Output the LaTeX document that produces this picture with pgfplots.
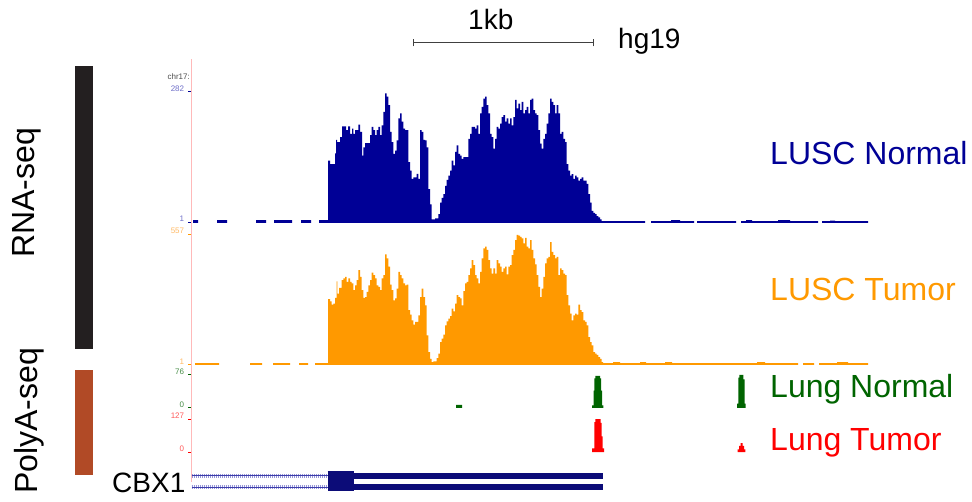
\documentclass[border=0pt]{standalone}
\usepackage{fontspec}
\setmainfont{Liberation Sans}
\usepackage{pgfplots}
\pgfplotsset{compat=1.18}

\definecolor{covblue}{RGB}{0,0,150}
\definecolor{covorange}{RGB}{255,153,0}
\definecolor{pagreen}{RGB}{0,100,0}
\definecolor{pared}{RGB}{255,0,0}
\definecolor{genenavy}{RGB}{12,12,120}
\definecolor{intronlight}{RGB}{150,150,215}
\definecolor{introndark}{RGB}{60,60,170}
\definecolor{rnabar}{RGB}{35,31,32}
\definecolor{polyabar}{RGB}{177,74,38}
\definecolor{guide}{RGB}{255,185,185}
\definecolor{lblblue}{RGB}{110,110,200}
\definecolor{lblorange}{RGB}{255,185,100}
\definecolor{lblgreen}{RGB}{70,140,70}
\definecolor{lblred}{RGB}{255,90,90}

\pgfplotsset{
  track/.style={
    scale only axis, anchor=south west,
    width=780.7pt, xmin=191.3, xmax=972, ymin=0,
    axis x line=none, axis y line*=left,
    y axis line style={draw=none},
    tick align=outside, major tick length=3pt,
    yticklabel style={font=\fontsize{8}{8}\selectfont, anchor=south east,
      inner sep=0pt, xshift=-4pt, yshift=0.5pt},
  },
  cov/.style={const plot mark left, draw=none, fill=#1},
}

\newcommand{\biglabel}{\fontsize{32}{36}\selectfont}
\newcommand{\midlabel}{\fontsize{28}{32}\selectfont}

\begin{document}
\begin{tikzpicture}[x=1pt, y=1pt]
\useasboundingbox (0,0) rectangle (972,501);

% group bars on the left
\fill[rnabar] (75,152) rectangle (93,435);
\fill[polyabar] (75,26) rectangle (93,131);
\node[rotate=90, anchor=base, font=\biglabel] at (34.5,308) {RNA-seq};
\node[rotate=90, anchor=base, font=\biglabel] at (37,80) {PolyA-seq};

% scale bar
\draw[black!75, line width=1pt] (413.3,458.3) -- (593.3,458.3);
\draw[black!75, line width=1pt] (413.3,454.5) -- (413.3,462);
\draw[black!75, line width=1pt] (593.3,454.5) -- (593.3,462);
\node[anchor=base west, font=\midlabel, inner sep=0pt] at (468,471.7) {1kb};
\node[anchor=base west, font=\midlabel, inner sep=0pt] at (618,452.7) {hg19};

% guide line at the left edge of the window
\draw[guide, line width=1pt] (191.3,19) -- (191.3,442);
\node[anchor=base east, font=\fontsize{8}{8}\selectfont, text=black!70, inner sep=0pt] at (190,421) {chr17:};

% LUSC Normal RNA-seq coverage (one plot per covered stretch)
\begin{axis}[track, at={(191.3pt,278pt)}, height=131pt, ymax=282,
  ytick={1,282}, yticklabels={1,282},
  tick style={covblue, line width=1pt}, yticklabel style={text=lblblue}]
\addplot[cov=covblue] coordinates {(193,6) (198,0)} \closedcycle;
\addplot[cov=covblue] coordinates {(217,6) (227,0)} \closedcycle;
\addplot[cov=covblue] coordinates {(256,6) (266,0)} \closedcycle;
\addplot[cov=covblue] coordinates {(274,6) (292,0)} \closedcycle;
\addplot[cov=covblue] coordinates {(301,6) (311,0)} \closedcycle;
\addplot[cov=covblue] coordinates {
(319,6)
(328,134) (330,127) (335,150) (336,179) (337,174) (340,185) (342,208) (346,200) (348,208)
(350,192) (352,203) (353.3,192) (355,200) (358.3,212) (360,196) (362,145) (363.3,163)
(365,172) (370,189) (371.7,207) (373.3,200) (375,189) (376.7,200) (378.3,207) (380,189)
(381.7,210) (383.3,239) (385,279) (386.7,272) (388.3,254) (390,196) (391.7,174) (393.3,149)
(395,156) (396.7,178) (398.3,225) (400,236) (401.7,218) (403.3,203) (405,200) (408.3,131)
(410,113) (411.7,95) (413.3,98) (416.7,106) (418.3,95) (420,200) (421.7,196) (423.3,179)
(425,178) (426.7,163) (428.3,73) (430,40) (431.7,8) (435,10) (438.3,19) (440,44) (441.7,54)
(443.3,62) (445,80) (446.7,93) (448.3,102) (450,113) (451.7,134) (453.3,124) (455,153)
(456.7,167) (458.3,149) (460,145) (461.7,138) (463.3,142) (468.3,181) (470,192) (471.7,207)
(475,203) (476.7,210) (478.3,192) (480,236) (481.7,250) (483.3,268) (485,272) (486.7,254)
(488.3,236) (490,192) (491.7,185) (493.3,160) (495,181) (496.7,207) (498.3,203) (500,214)
(501.7,228) (503.3,232) (505,218) (506.7,225) (508.3,214) (510,225) (511.7,210) (513.3,228)
(515,265) (516.7,247) (518.3,257) (520,243) (521.7,261) (523.3,236) (525,243) (526.7,250)
(528.3,236) (530,265) (531.7,268) (533.3,243) (535,236) (536.7,232) (538.3,200) (540,171)
(541.7,160) (543.3,181) (545,192) (546.7,214) (548.3,236) (550,268) (551.7,261) (553.3,254)
(555,236) (556.7,254) (558.3,236) (560,192) (561.7,196) (563.3,181) (565,174) (566.7,127)
(568.3,113) (570,102) (571.7,105) (573.3,95) (575,102) (576.7,98) (578.3,91) (580,95)
(581.7,98) (583.3,91) (586.7,84) (588.3,62) (590,44) (591.7,26) (593.3,22) (595,19)
(596.7,15) (598.3,12) (600,8) (601.7,4)
(603,4) (645,0)
} \closedcycle;
\addplot[cov=covblue] coordinates {(651,4) (671,6) (680,4) (694,0)} \closedcycle;
\addplot[cov=covblue] coordinates {(697,4) (736,0)} \closedcycle;
\addplot[cov=covblue] coordinates {(741,4) (746,6) (752,4) (778,6) (790,4) (818,0)} \closedcycle;
\addplot[cov=covblue] coordinates {(822,4) (830,5) (835,4) (868,0)} \closedcycle;
\end{axis}

% LUSC Tumor RNA-seq coverage
\begin{axis}[track, at={(191.3pt,136pt)}, height=131pt, ymax=557,
  ytick={1,557}, yticklabels={1,557},
  tick style={covorange, line width=1pt}, yticklabel style={text=lblorange}]
\addplot[cov=covorange] coordinates {(195,8) (219,0)} \closedcycle;
\addplot[cov=covorange] coordinates {(250,8) (262,0)} \closedcycle;
\addplot[cov=covorange] coordinates {(273,8) (290,0)} \closedcycle;
\addplot[cov=covorange] coordinates {(299,8) (308,0)} \closedcycle;
\addplot[cov=covorange] coordinates {
(315,8)
(328,280) (330,271) (331.7,257) (333.3,261) (335,285) (336.7,356) (337.3,304) (339,328)
(341.7,361) (343.3,368) (345,375) (346.7,353) (348.3,368) (350,353) (351.7,347) (353.3,318)
(355,339) (356.7,361) (358.3,403) (360,375) (361.7,318) (363.3,285) (365,289) (366.7,311)
(368.3,339) (370,361) (371.7,393) (373.3,382) (375,368) (376.7,339) (378.3,332) (380,318)
(381.7,368) (383.3,382) (385,470) (386.7,453) (388.3,418) (390,342) (391.7,318) (393.3,275)
(395,283) (396.7,325) (398.3,396) (400,382) (401.7,368) (403.3,347) (405,339) (406.7,342)
(408.3,233) (410,214) (411.7,190) (413.3,172) (415,183) (418.3,211) (420,289) (421.7,325)
(423.3,289) (425,254) (426.7,126) (428.3,55) (430,26) (431.7,12) (433.3,15) (436.7,29)
(438.3,48) (440,97) (441.7,112) (443.3,129) (445,169) (446.7,186) (448.3,197) (450,208)
(451.7,240) (453.3,228) (455,261) (456.7,297) (458.3,289) (460,283) (461.7,254) (463.3,314)
(465,347) (466.7,353) (468.3,382) (470,411) (471.7,446) (473.3,425) (475,382) (476.7,368)
(478.3,347) (480,396) (481.7,453) (483.3,496) (485,503) (486.7,489) (488.3,446) (490,411)
(491.7,389) (493.3,411) (495,389) (496.7,446) (498.3,432) (500,418) (501.7,396) (503.3,411)
(505,418) (506.7,385) (508.3,418) (510,425) (511.7,467) (513.3,489) (515,531) (516.7,553)
(518.3,550) (520,545) (521.7,538) (523.3,517) (525,541) (526.7,503) (528.3,496) (530,531)
(531.7,489) (533.3,453) (535,428) (536.7,382) (538.3,332) (540,289) (541.7,325) (543.3,375)
(545,432) (546.7,453) (548.3,460) (550,522) (551.7,481) (553.3,467) (555,453) (556.7,460)
(558.3,382) (560,411) (561.7,403) (563.3,389) (565,382) (566.7,297) (568.3,254) (570,218)
(571.7,190) (573.3,211) (575,218) (576.7,214) (578.3,257) (580,233) (581.7,225) (583.3,190)
(585,183) (586.7,169) (588.3,119) (590,97) (591.7,83) (593.3,55) (595,48) (596.7,43)
(598.3,33) (600,26) (601.7,12)
(603,8) (613,12) (620,8) (640,12) (646,8) (665,12) (672,8) (757,12) (765,8) (798,0)
} \closedcycle;
\addplot[cov=covorange] coordinates {(803,8) (814,0)} \closedcycle;
\addplot[cov=covorange] coordinates {(819,8) (837,12) (848,8) (868,0)} \closedcycle;
\end{axis}

% Lung Normal PolyA-seq reads
\begin{axis}[track, at={(191.3pt,93pt)}, height=33pt, ymax=76,
  ytick={0,76}, yticklabels={0,76},
  tick style={pagreen, line width=1pt}, yticklabel style={text=lblgreen}]
\addplot[cov=pagreen] coordinates {(456,7) (462,0)} \closedcycle;
\addplot[cov=pagreen] coordinates {(592,6) (593.5,40) (594.3,68) (595.3,74) (600,68) (601,40) (602,6) (603.3,0)} \closedcycle;
\addplot[cov=pagreen] coordinates {(737,10) (738.3,70) (739.3,76) (743.3,66) (744.5,10) (745.5,0)} \closedcycle;
\end{axis}

% Lung Tumor PolyA-seq reads
\begin{axis}[track, at={(191.3pt,49pt)}, height=33pt, ymax=127,
  ytick={0,127}, yticklabels={0,127},
  tick style={pared, line width=1pt}, yticklabel style={text=lblred}]
\addplot[cov=pared] coordinates {(592,14) (594.3,115) (595.3,127) (600.5,112) (601.5,60) (602.5,14) (604,0)} \closedcycle;
\addplot[cov=pared] coordinates {(737.5,10) (739,24) (740.5,34) (742.5,24) (744,10) (745.3,0)} \closedcycle;
\end{axis}

% CBX1 gene model (two transcripts)
\begin{axis}[scale only axis, anchor=south west, at={(191.3pt,6pt)},
  width=780.7pt, height=30pt, xmin=191.3, xmax=972, ymin=0, ymax=30,
  hide axis, clip=false]
\addplot[intronlight, line width=3.5pt, dash pattern=on 1pt off 1pt] coordinates {(191.7,19.15) (327.7,19.15)};
\addplot[introndark, line width=1pt] coordinates {(191.7,19.15) (327.7,19.15)};
\addplot[intronlight, line width=3.5pt, dash pattern=on 1pt off 1pt] coordinates {(191.7,8) (327.7,8)};
\addplot[introndark, line width=1pt] coordinates {(191.7,8) (327.7,8)};
\addplot[genenavy, line width=19.7pt] coordinates {(327.7,14.15) (354,14.15)};
\addplot[genenavy, line width=6.3pt] coordinates {(354,19.15) (603,19.15)};
\addplot[genenavy, line width=6.3pt] coordinates {(354,8) (603,8)};
\end{axis}

% track names
\node[anchor=base west, font=\biglabel, text=covblue, inner sep=0pt] at (770,336) {LUSC Normal};
\node[anchor=base west, font=\biglabel, text=covorange, inner sep=0pt] at (770,200) {LUSC Tumor};
\node[anchor=base west, font=\biglabel, text=pagreen, inner sep=0pt] at (770,103) {Lung Normal};
\node[anchor=base west, font=\biglabel, text=pared, inner sep=0pt] at (770,51) {Lung Tumor};
\node[anchor=base west, font=\midlabel, inner sep=0pt] at (112,8.7) {CBX1};
\end{tikzpicture}
\end{document}
